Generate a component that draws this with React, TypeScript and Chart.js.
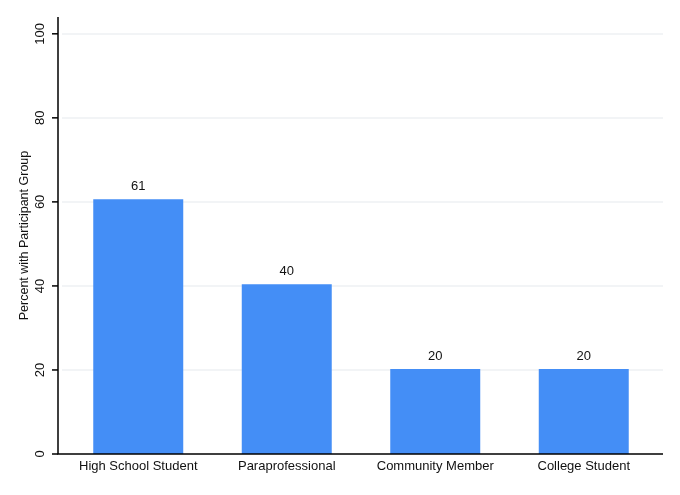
import { useEffect, useRef } from 'react'
import { Chart, registerables } from 'chart.js'

Chart.register(...registerables)

const categories = ['High School Student', 'Paraprofessional', 'Community Member', 'College Student']
const percentValues = [60.6, 40.4, 20.2, 20.2]
const valueLabels = ['61', '40', '20', '20']
const yTicks = [0, 20, 40, 60, 80, 100]
const yTitle = 'Percent with Participant Group'

const FONT = '"Liberation Sans", Arial, sans-serif'

// Eixos no estilo Stata: linhas, grade, marcas e rótulos girados
const stataAxes = {
  id: 'stataAxes',
  beforeDatasetsDraw(chart: any) {
    const ctx = chart.ctx
    const y = chart.scales.y
    const area = chart.chartArea
    const axisX = area.left - 6
    const right = area.right + 5
    ctx.save()
    ctx.strokeStyle = '#eef0f3'
    ctx.lineWidth = 1.5
    yTicks.forEach((v) => {
      if (v === 0) return
      const py = Math.round(y.getPixelForValue(v))
      ctx.beginPath()
      ctx.moveTo(axisX + 4, py)
      ctx.lineTo(right, py)
      ctx.stroke()
    })
    ctx.restore()
  },
  afterDatasetsDraw(chart: any) {
    const ctx = chart.ctx
    const x = chart.scales.x
    const y = chart.scales.y
    const area = chart.chartArea
    const axisX = area.left - 6
    const right = area.right + 5
    const bottom = y.getPixelForValue(0)
    ctx.save()
    ctx.strokeStyle = '#000'
    ctx.lineWidth = 1.5
    ctx.beginPath()
    ctx.moveTo(axisX, area.top)
    ctx.lineTo(axisX, bottom)
    ctx.lineTo(right, bottom)
    ctx.stroke()

    ctx.font = `13px ${FONT}`
    ctx.fillStyle = '#111'
    ctx.textAlign = 'center'
    ctx.textBaseline = 'middle'
    yTicks.forEach((v) => {
      const py = y.getPixelForValue(v)
      ctx.beginPath()
      ctx.moveTo(axisX - 6, py)
      ctx.lineTo(axisX, py)
      ctx.stroke()
      ctx.save()
      ctx.translate(axisX - 18, py)
      ctx.rotate(-Math.PI / 2)
      ctx.fillText(String(v), 0, 0)
      ctx.restore()
    })

    // Rótulos das categorias
    categories.forEach((c, i) => {
      ctx.fillText(c, x.getPixelForValue(i), bottom + 12)
    })

    ctx.font = `12.5px ${FONT}`
    ctx.save()
    ctx.translate(25, (area.top + bottom) / 2)
    ctx.rotate(-Math.PI / 2)
    ctx.fillText(yTitle, 0, 0)
    ctx.restore()

    // Texto acima das barras
    const meta = chart.getDatasetMeta(0)
    ctx.font = `13px ${FONT}`
    ctx.textBaseline = 'bottom'
    meta.data.forEach((bar: any, i: number) => {
      ctx.fillText(valueLabels[i], bar.x, bar.y - 6)
    })
    ctx.restore()
  },
}

export default function App() {
  const chartRef = useRef<HTMLCanvasElement>(null)
  const chartInstance = useRef<Chart | null>(null)

  useEffect(() => {
    document.body.style.margin = '0'
    if (!chartRef.current) return
    if (chartInstance.current) chartInstance.current.destroy()

    const ctx = chartRef.current.getContext('2d')
    if (ctx) {
      chartInstance.current = new Chart(ctx, {
        type: 'bar',
        data: {
          labels: categories,
          datasets: [
            {
              label: 'Percent',
              data: percentValues,
              backgroundColor: '#448ef6',
              borderWidth: 0,
              categoryPercentage: 0.606,
              barPercentage: 1,
            },
          ],
        },
        plugins: [stataAxes],
        options: {
          responsive: false,
          animation: false,
          layout: { padding: { top: 17, right: 22, left: 64, bottom: 41 } },
          plugins: {
            legend: { display: false },
            tooltip: { enabled: false },
          },
          scales: {
            x: { display: false },
            y: {
              display: false,
              min: 0,
              max: 104,
            },
          },
        },
      })
    }

    return () => {
      if (chartInstance.current) {
        chartInstance.current.destroy()
        chartInstance.current = null
      }
    }
  }, [])

  return (
    <div style={{ width: 680, height: 495, background: '#fff' }}>
      <canvas ref={chartRef} width={680} height={495} style={{ width: 680, height: 495 }} />
    </div>
  )
}
